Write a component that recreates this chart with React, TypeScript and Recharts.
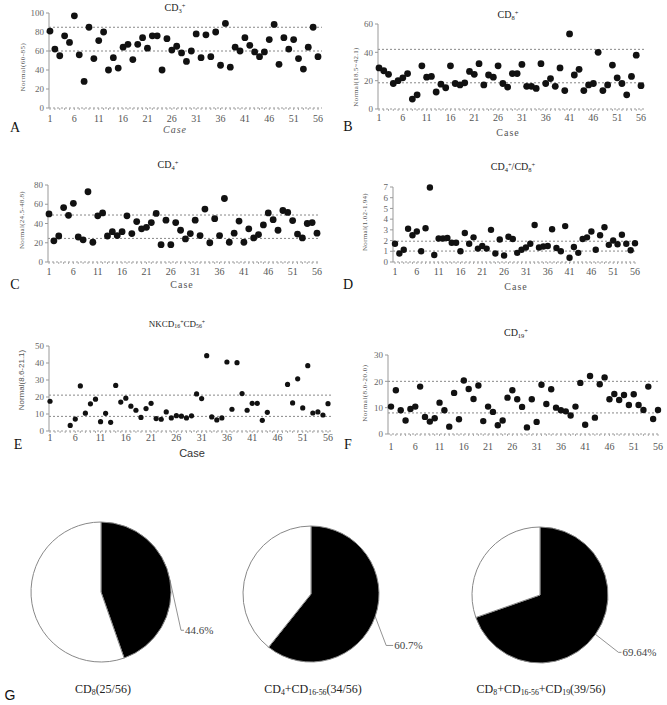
import React from "react";
import {
  ScatterChart,
  Scatter,
  XAxis,
  YAxis,
  ReferenceLine,
  PieChart,
  Pie,
  Cell,
} from "recharts";

const SERIF = '"Liberation Serif", "DejaVu Serif", serif';
const SANS = '"Liberation Sans", Arial, sans-serif';

// case numbers on the x axis
const CASES = Array.from({ length: 56 }, (_, i) => i + 1);
const X_TICK_LABELS = [1, 6, 11, 16, 21, 26, 31, 36, 41, 46, 51, 56];

// A: CD3+
const CD3 = [
  81, 62, 55, 76, 69, 97, 56, 28, 85, 52, 71, 80, 40, 53, 42, 64, 67, 51, 67, 74,
  63, 76, 76, 40, 73, 61, 65, 58, 49, 60, 78, 53, 77, 54, 80, 45, 89, 43, 64, 60,
  74, 66, 59, 54, 59, 72, 88, 46, 74, 62, 72, 52, 41, 64, 85, 54,
];
const CD3_NORMAL = [60, 85];
const CD3_TICKS = [0, 20, 40, 60, 80, 100];

// B: CD8+
const CD8 = [
  29, 27, 24.5, 18, 20, 22, 25, 7, 10, 30.5, 22.5, 23, 12, 17.5, 15, 30.5, 18, 17, 18.5, 26.5,
  24.5, 32, 17, 24, 22.5, 30.5, 18, 15.5, 25, 25, 31.5, 16, 16, 14.5, 32, 18, 21.5, 16, 29, 13,
  53, 24, 28, 13, 17, 18, 40, 13, 17, 31, 22, 18, 10, 23, 38, 16.5,
];
const CD8_NORMAL = [18.5, 42.1];
const CD8_TICKS = [0, 20, 40, 60];

// C: CD4+
const CD4 = [
  50, 22, 27, 56.5, 48.5, 61, 26, 23, 73, 20.5, 48, 51, 27, 31.5, 27.5, 31.5, 48, 29.5, 42, 34.5,
  36, 41, 50.5, 18, 43.5, 18, 41, 33, 24, 29.5, 43.5, 27.5, 55, 20, 45, 27.5, 66, 20.5, 30, 42.5,
  20.5, 34.5, 25, 28.5, 38.5, 51, 44, 33, 53.5, 51.5, 43, 29, 25, 40, 41, 30,
];
const CD4_NORMAL = [24.5, 48.8];
const CD4_TICKS = [0, 20, 40, 60, 80];

// D: CD4+/CD8+
const RATIO = [
  1.7, 0.8, 1.15, 3.1, 2.5, 2.85, 1.0, 3.15, 6.95, 0.65, 2.2, 2.2, 2.25, 1.8, 1.8, 1.0, 2.7, 1.7, 2.3, 1.25,
  1.5, 1.25, 3.0, 0.8, 2.1, 0.6, 2.35, 2.15, 0.85, 1.15, 1.35, 1.7, 3.45, 1.35, 1.45, 1.5, 3.05, 1.3, 1.0, 3.35,
  0.4, 1.4, 0.85, 2.15, 2.3, 2.85, 1.15, 2.5, 3.25, 1.6, 2.0, 1.65, 2.55, 1.7, 1.1, 1.75,
];
const RATIO_NORMAL = [1.02, 1.94];
const RATIO_TICKS = [0, 1, 2, 3, 4, 5, 6, 7];

// E: NK CD16+CD56+ (no mark drawn for cases 2-4 and 45-47)
const NK = [
  17.5, null, null, null, 3.3, 7, 26.5, 10.5, 16, 18.7, 5.5, 10.4, 5.1, 26.8, 17, 19.3, 14.6, 12.2, 8, 13.2,
  16.3, 7.3, 6.9, 11.2, 7.7, 9, 8.7, 7.7, 8.9, 21.8, 19.1, 44.3, 8.3, 6.5, 7.7, 40.6, 12.8, 40.2, 22, 12.2,
  16.3, 16.3, 6.3, 11, null, null, null, 27.4, 16.5, 30.7, 13.6, 38.4, 10.6, 11.2, 9.4, 16.1,
];
const NK_NORMAL = [8.6, 21.1];
const NK_TICKS = [0, 10, 20, 30, 40, 50];

// F: CD19+
const CD19 = [
  10.4, 16.6, 9, 5.1, 9.5, 10.4, 18, 6.5, 4.7, 6, 11.9, 9, 2.8, 15.6, 5.6, 20.3, 17.1, 13.3, 18.4, 4.9,
  10.4, 8.4, 3.3, 5.1, 13.8, 16.6, 13.2, 10.3, 2.5, 13.2, 4.6, 18.7, 11.4, 17, 10, 9, 8.6, 7, 10.4, 19.4,
  3.5, 22, 6.2, 18.9, 21.5, 13.2, 15.2, 12.9, 14.8, 11, 15.1, 11, 9.1, 18, 5.7, 9.1,
];
const CD19_NORMAL = [8.0, 20.0];
const CD19_TICKS = [0, 10, 20, 30];

// G: pies
const PIE_COUNTS = [25, 34, 39];
const PIE_TOTAL = 56;
const PIE_LABELS = ["44.6%", "60.7%", "69.64%"];

const toPoints = (vals: (number | null)[]) =>
  vals
    .map((v, i) => ({ case: CASES[i], value: v }))
    .filter((p) => p.value !== null);

const PANELS = [
  { key: "A", data: CD3, refs: CD3_NORMAL, ticks: CD3_TICKS, axisX: 49, x1: 50, x56: 318, xEnd: 322, yTop: 13, yBottom: 108, r: 3.4, dy: 10 },
  { key: "B", data: CD8, refs: CD8_NORMAL, ticks: CD8_TICKS, axisX: 378, x1: 379, x56: 641, xEnd: 644, yTop: 24, yBottom: 109, r: 3.4, dy: 8 },
  { key: "C", data: CD4, refs: CD4_NORMAL, ticks: CD4_TICKS, axisX: 48, x1: 49, x56: 317, xEnd: 319, yTop: 185, yBottom: 262, r: 3.4, dy: 9 },
  { key: "D", data: RATIO, refs: RATIO_NORMAL, ticks: RATIO_TICKS, axisX: 393, x1: 395, x56: 635, xEnd: 637, yTop: 187, yBottom: 262, r: 3.2, dy: 9 },
  { key: "E", data: NK, refs: NK_NORMAL, ticks: NK_TICKS, axisX: 49, x1: 50, x56: 328, xEnd: 331, yTop: 346, yBottom: 431, r: 2.6, dy: 6 },
  { key: "F", data: CD19, refs: CD19_NORMAL, ticks: CD19_TICKS, axisX: 388, x1: 391, x56: 658, xEnd: 660, yTop: 355, yBottom: 434, r: 3.2, dy: 12 },
];

function Txt({ x, y, size = 10, font = SERIF, color = "#222", rotate = false, spacing = 0, children }: any) {
  return (
    <div
      style={{
        position: "absolute",
        left: x,
        top: y,
        transform: `translate(-50%, -50%)${rotate ? " rotate(-90deg)" : ""}`,
        fontSize: size,
        fontFamily: font,
        color,
        whiteSpace: "nowrap",
        letterSpacing: spacing,
        lineHeight: 1,
      }}
    >
      {children}
    </div>
  );
}

const Sub = ({ children }: any) => (
  <sub style={{ fontSize: "65%", verticalAlign: "-0.25em", lineHeight: 0 }}>{children}</sub>
);
const Sup = ({ children }: any) => (
  <sup style={{ fontSize: "65%", verticalAlign: "0.5em", lineHeight: 0 }}>{children}</sup>
);

function CasePanel({ p }: any) {
  const left = p.axisX - 40;
  const top = p.yTop - 8;
  const width = p.xEnd - p.axisX + 50;
  const height = p.yBottom - p.yTop + 38;
  const points = toPoints(p.data);
  const yMax = p.ticks[p.ticks.length - 1];

  const caseTick = (props: any) => {
    const { x, y, payload } = props;
    if (!X_TICK_LABELS.includes(payload.value)) return <g />;
    return (
      <text x={x} y={y + p.dy} textAnchor="middle" fontSize={10} fill="#555" fontFamily={SERIF}>
        {payload.value}
      </text>
    );
  };

  return (
    <div style={{ position: "absolute", left, top, width, height }}>
      <ScatterChart width={width} height={height} margin={{ top: 8, right: 10, bottom: 10, left: 10 }}>
        <XAxis
          type="number"
          dataKey="case"
          domain={[1, 56]}
          ticks={CASES}
          interval={0}
          tick={caseTick}
          tickSize={2}
          tickLine={{ stroke: "#aaa" }}
          axisLine={{ stroke: "#999", strokeDasharray: "2 2" }}
          padding={{ left: p.x1 - p.axisX, right: p.xEnd - p.x56 }}
          height={20}
        />
        <YAxis
          type="number"
          dataKey="value"
          domain={[0, yMax]}
          ticks={p.ticks}
          interval={0}
          width={30}
          tickSize={3}
          tick={{ fontSize: 9, fill: "#666", fontFamily: SERIF }}
          axisLine={{ stroke: "#999" }}
          tickLine={{ stroke: "#999" }}
        />
        {p.refs.map((v: number) => (
          <ReferenceLine key={v} y={v} stroke="#888" strokeDasharray="2 2" />
        ))}
        <Scatter
          data={points}
          isAnimationActive={false}
          shape={(s: any) => <circle cx={s.cx} cy={s.cy} r={p.r} fill="#111" />}
        />
      </ScatterChart>
    </div>
  );
}

const PIE_LAYOUT = [
  { cx: 101, cy: 592, r: 70, leg: [11, 50, 3] },
  { cx: 311, cy: 594, r: 68, leg: [11, 29, 7] },
  { cx: 540, cy: 595, r: 68, leg: [23, 18, 3] },
];

function PiePanel({ i }: any) {
  const lay = PIE_LAYOUT[i];
  const W = 260;
  const H = 200;
  const data = [
    { name: "abnormal", value: PIE_COUNTS[i] },
    { name: "normal", value: PIE_TOTAL - PIE_COUNTS[i] },
  ];
  const renderLabel = (props: any) => {
    const { cx, cy, midAngle, outerRadius, index } = props;
    if (index !== 0) return null;
    const rad = Math.PI / 180;
    const sx = cx + outerRadius * Math.cos(-midAngle * rad);
    const sy = cy + outerRadius * Math.sin(-midAngle * rad);
    const mx = sx + lay.leg[0];
    const my = sy + lay.leg[1];
    const ex = mx + lay.leg[2];
    return (
      <g>
        <polyline points={`${sx},${sy} ${mx},${my} ${ex},${my}`} fill="none" stroke="#777" strokeWidth={0.8} />
        <text x={ex + 1} y={my} dominantBaseline="central" fontSize={11} fill="#444" fontFamily={SERIF}>
          {PIE_LABELS[i]}
        </text>
      </g>
    );
  };
  return (
    <div style={{ position: "absolute", left: lay.cx - W / 2, top: lay.cy - H / 2, width: W, height: H }}>
      <PieChart width={W} height={H} margin={{ top: 0, right: 0, bottom: 0, left: 0 }}>
        <Pie
          data={data}
          dataKey="value"
          cx={W / 2}
          cy={H / 2}
          outerRadius={lay.r}
          startAngle={90}
          endAngle={-270}
          stroke="#888"
          strokeWidth={1}
          label={renderLabel}
          labelLine={false}
          isAnimationActive={false}
        >
          <Cell fill="#000" />
          <Cell fill="#fff" />
        </Pie>
      </PieChart>
    </div>
  );
}

export default function App() {
  return (
    <div
      style={{
        position: "absolute",
        left: 0,
        top: 0,
        width: 667,
        height: 705,
        background: "#fff",
        overflow: "hidden",
        fontFamily: SERIF,
      }}
    >
      {PANELS.map((p) => (
        <CasePanel key={p.key} p={p} />
      ))}

      {/* panel titles */}
      <Txt x={175} y={8} size={10}>CD<Sub>3</Sub><Sup>+</Sup></Txt>
      <Txt x={508} y={15} size={10}>CD<Sub>8</Sub><Sup>+</Sup></Txt>
      <Txt x={168} y={165} size={10}>CD<Sub>4</Sub><Sup>+</Sup></Txt>
      <Txt x={513} y={167} size={10}>CD<Sub>4</Sub><Sup>+</Sup>/CD<Sub>8</Sub><Sup>+</Sup></Txt>
      <Txt x={177} y={324} size={9}>NKCD<Sub>16</Sub><Sup>+</Sup>CD<Sub>56</Sub><Sup>+</Sup></Txt>
      <Txt x={516} y={333} size={10}>CD<Sub>19</Sub><Sup>+</Sup></Txt>

      {/* y axis titles */}
      <Txt x={23} y={67} size={7} color="#555" rotate spacing={0.5}>Normal(60-85)</Txt>
      <Txt x={356} y={77} size={7} color="#555" rotate spacing={0.3}>Normal(18.5~42.1)</Txt>
      <Txt x={22} y={220} size={7} color="#555" rotate spacing={0.3}>Normal(24.5-48.8)</Txt>
      <Txt x={365} y={222} size={7} color="#555" rotate spacing={0.3}>Normal(1.02-1.94)</Txt>
      <Txt x={22} y={380} size={8} color="#555" rotate font={SANS}>Normal(8.6-21.1)</Txt>
      <Txt x={365} y={393} size={7} color="#555" rotate spacing={0.5}>Normal(8.0-20.0)</Txt>

      {/* x axis titles */}
      <Txt x={175} y={130} size={10} color="#555" spacing={1}><i>Case</i></Txt>
      <Txt x={508} y={133} size={10} color="#555" spacing={1}>Case</Txt>
      <Txt x={182} y={285} size={10} color="#555" spacing={1}>Case</Txt>
      <Txt x={516} y={287} size={10} color="#555" spacing={1}>Case</Txt>
      <Txt x={192} y={453} size={11} color="#333" font={SANS}>Case</Txt>

      {/* panel letters */}
      <Txt x={15} y={128} size={14} color="#111">A</Txt>
      <Txt x={348} y={127} size={14} color="#111">B</Txt>
      <Txt x={15} y={285} size={14} color="#111">C</Txt>
      <Txt x={348} y={285} size={14} color="#111">D</Txt>
      <Txt x={18} y={445} size={14} color="#111">E</Txt>
      <Txt x={348} y={445} size={14} color="#111">F</Txt>
      <Txt x={10} y={695} size={14} color="#111" font={SANS}>G</Txt>

      {PIE_COUNTS.map((_, i) => (
        <PiePanel key={i} i={i} />
      ))}

      {/* pie titles */}
      <Txt x={103} y={689} size={12}>CD<Sub>8</Sub>(25/56)</Txt>
      <Txt x={313} y={689} size={12}>CD<Sub>4</Sub>+CD<Sub>16-56</Sub>(34/56)</Txt>
      <Txt x={541} y={689} size={12}>CD<Sub>8</Sub>+CD<Sub>16-56</Sub>+CD<Sub>19</Sub>(39/56)</Txt>
    </div>
  );
}
